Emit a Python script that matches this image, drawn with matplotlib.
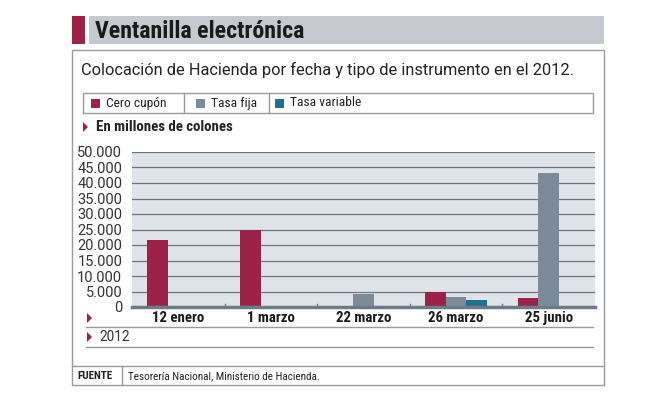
import numpy as np
import matplotlib
matplotlib.use("Agg")
import matplotlib.pyplot as plt
from matplotlib.patches import Rectangle, Polygon
from matplotlib.lines import Line2D
from matplotlib.ticker import FuncFormatter

fechas = ['12 enero', '1 marzo', '22 marzo', '26 marzo', '25 junio']
cero_cupon = [21600, 25000, 0, 4800, 2900]
tasa_fija = [0, 0, 4100, 3100, 43100]
tasa_variable = [0, 0, 0, 2300, 0]
series_names = ['Cero cupón', 'Tasa fija', 'Tasa variable']
y_ticks = list(range(0, 50001, 5000))

MAROON = '#9c2249'
GRAY = '#7b8b99'
TEAL = '#1d7194'
COND = ['Roboto Condensed', 'DejaVu Sans']
REG = ['Roboto', 'DejaVu Sans']

W, H = 653, 398
fig = plt.figure(figsize=(W / 100, H / 100), dpi=100)


def fx(px):
    return px / W


def fy(py):
    return 1 - py / H


def frect(x0, y0, x1, y1, **kw):
    fig.add_artist(Rectangle((fx(x0), fy(y1)), fx(x1) - fx(x0), fy(y0) - fy(y1),
                             transform=fig.transFigure, **kw))


def fline(x0, y0, x1, y1, **kw):
    fig.add_artist(Line2D([fx(x0), fx(x1)], [fy(y0), fy(y1)], transform=fig.transFigure, **kw))


def marker(x, y):
    fig.add_artist(Polygon([[fx(x), fy(y - 5)], [fx(x), fy(y + 5)], [fx(x + 5), fy(y)]],
                           closed=True, transform=fig.transFigure, color=MAROON, lw=0))


# title bar
frect(72, 16, 85, 44, color=MAROON, lw=0)
frect(89, 16, 604, 44, color='#c6cad0', lw=0)
fig.text(fx(95), fy(31), 'Ventanilla electrónica', family=COND, fontsize=17.2, fontweight='bold',
         color='#1a1a1a', va='center')

# outer frame
frect(72, 50, 604, 385, fill=False, ec='#9a9a9a', lw=1)
fline(72, 366, 604, 366, color='#9a9a9a', lw=1)
fline(122, 366, 122, 385, color='#9a9a9a', lw=1)
fig.text(fx(77), fy(376), 'FUENTE', family=COND, fontsize=8, fontweight='bold', va='center', color='#222222')
fig.text(fx(128), fy(376), 'Tesorería Nacional, Ministerio de Hacienda.', family=COND, fontsize=8,
         va='center', color='#222222')

fig.text(fx(81), fy(70), 'Colocación de Hacienda por fecha y tipo de instrumento en el 2012.',
         family=REG, fontsize=11.8, va='center', color='#222222')

# legend box
frect(83, 93, 593, 113, fill=False, ec='#9a9a9a', lw=1)
legend_sq = [91, 196, 275]
for i, (name, col) in enumerate(zip(series_names, [MAROON, GRAY, TEAL])):
    x0 = legend_sq[i]
    frect(x0, 99, x0 + 9, 108, color=col, lw=0)
    fig.text(fx(x0 + 15), fy(103), name, family=COND, fontsize=9.7, va='center', color='#222222')
fline(184, 93, 184, 113, color='#9a9a9a', lw=1)
fline(269, 93, 269, 113, color='#9a9a9a', lw=1)

marker(83, 127)
fig.text(fx(96), fy(127), 'En millones de colones', family=COND, fontsize=10.7, fontweight='bold',
         va='center', color='#222222')

# chart
ax = fig.add_axes([fx(132), fy(307), fx(595) - fx(132), fy(152) - fy(307)])
ax.set_facecolor('#dfe3ea')
n = len(fechas)
x = np.arange(n)
bw = 0.222
ax.bar(x - bw, cero_cupon, bw, color=MAROON, zorder=3)
ax.bar(x, tasa_fija, bw, color=GRAY, zorder=3)
ax.bar(x + bw, tasa_variable, bw, color=TEAL, zorder=3)
ax.set_xlim(-0.5, n - 0.5)
ax.set_ylim(0, 50000)
ax.set_yticks(y_ticks)
ax.yaxis.set_major_formatter(FuncFormatter(lambda v, p: f'{int(v):,}'.replace(',', '.')))
ax.grid(axis='y', color='#6d7480', lw=0.9, zorder=1)
for s in ['top', 'right', 'left']:
    ax.spines[s].set_visible(False)
ax.spines['bottom'].set_color('#6c7a8a')
ax.spines['bottom'].set_linewidth(2.5)
ax.spines['bottom'].set_zorder(4)
ax.tick_params(axis='y', length=0, pad=7, labelsize=10.5, labelcolor='#333333')
for lab in ax.get_yticklabels():
    lab.set_family(REG)
ax.set_xticks(x)
ax.set_xticklabels(fechas, family=COND, fontsize=10.7, fontweight='bold', color='#1a1a1a')
ax.tick_params(axis='x', length=0, pad=3)
for sep in x[:-1] + 0.5:
    ax.plot([sep, sep], [0, 900], color='#6c7a8a', lw=1, zorder=4, clip_on=False)

# below-axis rows
marker(87, 318)
fline(86, 327, 593, 327, color='#9a9a9a', lw=1)
marker(87, 337)
fig.text(fx(99), fy(337), '2012', family=REG, fontsize=9.8, va='center', color='#333333')
fline(86, 347, 593, 347, color='#9a9a9a', lw=1)

fig.savefig('out.png', dpi=100)
